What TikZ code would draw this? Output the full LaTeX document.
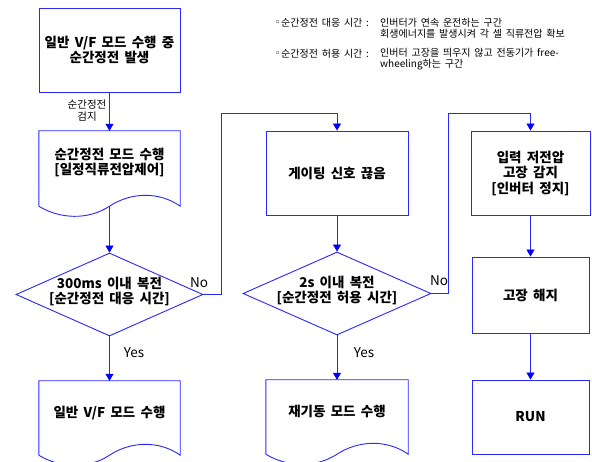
\documentclass[tikz,border=0pt]{standalone}
\usepackage{fontspec}
\setmainfont[WordSpace=1.7]{Noto Sans CJK KR}
\newfontfamily\symfont{DejaVu Sans}
\usetikzlibrary{shapes.geometric,arrows.meta}
\definecolor{lblue}{RGB}{40,40,255}
\definecolor{hblue}{RGB}{0,0,255}
\newcommand\docoutline[2]{%
  \draw[ln] (#1.south west) -- (#1.north west) -- (#1.north east) -- (#1.south east)
    .. controls +(-0.15*#2,-15) and +(0.15*#2,-14) .. (#1.south)
    .. controls +(-0.15*#2,14) and +(0.15*#2,13) .. (#1.south west);}
\begin{document}
\begin{tikzpicture}[x=1pt,y=-1pt,
  ln/.style={draw=lblue, line width=0.9pt},
  arr/.style={ln, -{Triangle[length=7pt,width=8pt,color=hblue]}},
  boxn/.style={draw=lblue, line width=0.9pt, rectangle, inner sep=0,
     font=\fontsize{13.5}{15.5}\selectfont\bfseries, align=center},
  docn/.style={rectangle, draw=none, inner sep=0},
  dia/.style={diamond, draw=lblue, line width=0.9pt, inner sep=0},
  mt/.style={font=\fontsize{13.5}{15.5}\selectfont\bfseries, align=center, inner sep=0},
  st/.style={font=\fontsize{10}{11}\selectfont, align=left, inner sep=0},
  lt/.style={font=\fontsize{13.5}{14}\selectfont, inner sep=0},
  kt/.style={font=\fontsize{10.5}{12}\selectfont, align=center, inner sep=0}
]
\useasboundingbox[fill=white] (0,0) rectangle (592,462);

% annotations
\node[st, anchor=west] (bl1) at (276,22.5) {{\symfont\fontsize{5}{5}\selectfont ▫}};
\node[st, anchor=west] (a1) at (281,23) {순간정전 대응 시간 :};
\node[st, anchor=west] (e1) at (380,28.5) {인버터가 연속 운전하는 구간\\회생에너지를 발생시켜 각 셀 직류전압 확보};
\node[st, anchor=west] (bl2) at (276,53.5) {{\symfont\fontsize{5}{5}\selectfont ▫}};
\node[st, anchor=west] (a2) at (281,54) {순간정전 허용 시간 :};
\node[st, anchor=west] (e2) at (380,59.5) {인버터 고장을 띄우지 않고 전동기가 free-\\wheeling하는 구간};

% column 1
\node[boxn, minimum width=141pt, minimum height=84pt] (b1) at (109.5,50) {일반 V/F 모드 수행 중\\순간정전 발생};
\node[docn, minimum width=141pt, minimum height=75pt] (doc2) at (109.5,168.5) {};
\docoutline{doc2}{141}
\node[mt] (t2) at (109.5,162.5) {순간정전 모드 수행\\{[}일정직류전압제어{]}};
\node[dia, minimum width=187pt, minimum height=83pt] (d1) at (109.5,294.5) {};
\node[mt] (td1) at (109.5,291.5) {300ms 이내 복전\\{[}순간정전 대응 시간{]}};
\node[docn, minimum width=141pt, minimum height=74pt] (docbl) at (109.5,418) {};
\docoutline{docbl}{141}
\node[mt] (tbl) at (109.5,413) {일반 V/F 모드 수행};

% column 2
\node[boxn, minimum width=142pt, minimum height=84pt] (b3) at (337,173) {게이팅 신호 끊음};
\node[dia, minimum width=188pt, minimum height=83pt] (d2) at (337,293.5) {};
\node[mt] (td2) at (337,290.5) {2s 이내 복전\\{[}순간정전 허용 시간{]}};
\node[docn, minimum width=142pt, minimum height=74pt] (docbm) at (337,417) {};
\docoutline{docbm}{142}
\node[mt] (tbm) at (337,411) {재기동 모드 수행};

% column 3
\node[boxn, minimum width=119pt, minimum height=84pt] (b4) at (530.5,173) {입력 저전압\\고장 감지\\{[}인버터 정지{]}};
\node[boxn, minimum width=117pt, minimum height=76pt] (b5) at (530.5,295) {고장 해지};
\node[boxn, minimum width=117pt, minimum height=74pt] (b6) at (530.5,417) {RUN};

% connectors
\coordinate (c1) at (221,113);
\coordinate (c2) at (448,113);
\draw[arr] (b1.south) -- (doc2.north);
\draw[arr] (doc2.south) -- (d1.north);
\draw[arr] (d1.south) -- (docbl.north);
\draw[arr] (d1.east) -| (c1) -| (b3.north);
\draw[arr] (b3.south) -- (d2.north);
\draw[arr] (d2.south) -- (docbm.north);
\draw[arr] (d2.east) -| (c2) -| (b4.north);
\draw[arr] (b4.south) -- (b5.north);
\draw[arr] (b5.south) -- (b6.north);

% labels
\node[kt] (l1) at (87,111) {순간정전\\검지};
\node[lt] (y1) at (134,353) {Yes};
\node[lt] (y2) at (364,353) {Yes};
\node[lt] (n1) at (199,283) {No};
\node[lt] (n2) at (439,281) {No};
\end{tikzpicture}
\end{document}
